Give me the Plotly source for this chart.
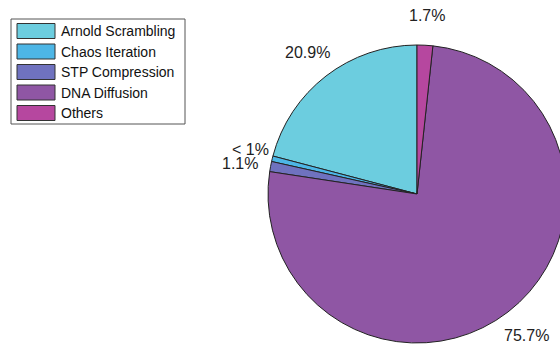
import math
import plotly.graph_objects as go

# Share of encryption time per stage (%)
stages = ["Arnold Scrambling", "Chaos Iteration", "STP Compression", "DNA Diffusion", "Others"]
shares = [20.9, 0.6, 1.1, 75.7, 1.7]
colors = ["#6ccddf", "#4db6e6", "#6f72bf", "#8f56a4", "#b6479f"]

W, H = 575, 347
# pie placement in pixels (centre and radius)
CX, CY, R = 417.0, 194.0, 149.0

total = sum(shares)
# counterclockwise pies in plotly put the first slice clockwise of the start
# angle, so turn the pie back by that slice to start it at 12 o'clock
first_span = shares[0] / total * 360.0

fig = go.Figure(go.Pie(
    labels=stages,
    values=shares,
    sort=False,
    direction="counterclockwise",
    rotation=-first_span,
    textinfo="none",
    marker=dict(colors=colors, line=dict(color="#222222", width=1)),
    domain=dict(x=[(CX - R) / W, (CX + R) / W], y=[(H - CY - R) / H, (H - CY + R) / H]),
    showlegend=False,
))

# percentage labels at 1.2 x radius along each slice's mid-angle
nudge = {1: (7, -2), 2: (-1.5, 2)}
start = 90.0
annotations = []
for i, v in enumerate(shares):
    span = v / total * 360.0
    mid = math.radians(start + span / 2)
    start += span
    px = CX + 1.2 * R * math.cos(mid)
    py = CY - 1.2 * R * math.sin(mid)
    dx, dy = nudge.get(i, (0, 0))
    px += dx
    py += dy
    txt = f"{v:.1f}%" if v >= 1 else "< 1%"
    annotations.append(dict(
        x=px / W, y=1 - py / H, xref="paper", yref="paper",
        text=txt, showarrow=False, xanchor="center", yanchor="middle",
        font=dict(family="Liberation Sans, Arial, sans-serif", size=16, color="#222222"),
    ))

# legend box with colour patches
shapes = []
box_l, box_r, box_t, box_b = 11, 185, 19, 124
shapes.append(dict(type="rect", xref="paper", yref="paper",
                   x0=box_l / W, x1=box_r / W, y0=1 - box_b / H, y1=1 - box_t / H,
                   line=dict(color="#555555", width=1), fillcolor="white", layer="above"))
row0, step = 31.0, 20.5
for i, (name, c) in enumerate(zip(stages, colors)):
    yc = row0 + i * step
    shapes.append(dict(type="rect", xref="paper", yref="paper",
                       x0=17 / W, x1=55 / W, y0=1 - (yc + 7.5) / H, y1=1 - (yc - 7.5) / H,
                       line=dict(color="#333333", width=1), fillcolor=c, layer="above"))
    annotations.append(dict(
        x=59 / W, y=1 - yc / H, xref="paper", yref="paper",
        text=name, showarrow=False, xanchor="left", yanchor="middle",
        font=dict(family="Liberation Sans, Arial, sans-serif", size=14, color="#111111"),
    ))

fig.update_layout(
    width=W, height=H,
    margin=dict(l=0, r=0, t=0, b=0),
    paper_bgcolor="white", plot_bgcolor="white",
    shapes=shapes, annotations=annotations,
)

fig.write_html("out.html", post_script="document.documentElement.style.overflow='hidden';document.body.style.overflow='hidden';")
